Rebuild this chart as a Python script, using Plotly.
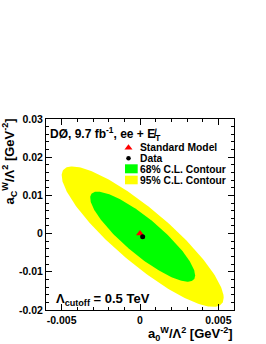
import numpy as np
import plotly.graph_objects as go

# Standard Model expectation and measured point (a0W/L^2, aCW/L^2) in GeV^-2
sm_point = [0.0, 0.0]
data_point = [0.00017, -0.00080]

# Contour ellipse parameters: half-width in a0, half-height in aC, correlation
contour_names = ["68% C.L. Contour", "95% C.L. Contour"]
contour_colors = ["#00ff00", "#ffff00"]
contour_ax = [0.00335, 0.00517]
contour_ay = [0.01179, 0.01838]
contour_rho = [-0.86, -0.87]

x_ticks = [-0.005, 0, 0.005]
x_ticklabels = ["-0.005", "0", "0.005"]
y_ticks = [-0.02, -0.01, 0, 0.01, 0.02, 0.03]
y_ticklabels = ["-0.02", "-0.01", "0", "0.01", "0.02", "0.03"]

legend_labels = ["Standard Model", "Data", "68% C.L. Contour", "95% C.L. Contour"]

FONT = "Liberation Sans, Arial, Helvetica, sans-serif"

# plot-area geometry in pixels
W, H = 266, 344
L, R, T, B = 46, 234, 119, 310
PW, PH = R - L, B - T


def px(xp):
    return (xp - L) / PW


def py(yp):
    return (B - yp) / PH


def ellipse(cx, cy, ax, ay, rho, n=240):
    t = np.linspace(0, 2 * np.pi, n)
    x = cx + ax * np.cos(t)
    y = cy + ay * np.cos(t + np.arccos(rho))
    return x, y


fig = go.Figure()

for i in [1, 0]:
    ex, ey = ellipse(data_point[0], data_point[1], contour_ax[i], contour_ay[i], contour_rho[i])
    fig.add_trace(go.Scatter(
        x=ex, y=ey, mode="lines", fill="toself",
        fillcolor=contour_colors[i], line=dict(width=0, color=contour_colors[i]),
        name=contour_names[i], hoverinfo="skip"))

fig.add_trace(go.Scatter(
    x=[sm_point[0]], y=[sm_point[1]], mode="markers", name="Standard Model",
    marker=dict(symbol="triangle-up", size=7, color="red", line=dict(width=0))))
fig.add_trace(go.Scatter(
    x=[data_point[0]], y=[data_point[1]], mode="markers", name="Data",
    marker=dict(symbol="circle", size=5, color="black", line=dict(width=0))))

# legend symbols on an overlay axis spanning the plot area in paper units
fig.add_trace(go.Scatter(
    x=[px(128.5)], y=[py(147.8)], xaxis="x2", yaxis="y2", mode="markers",
    marker=dict(symbol="triangle-up", size=7, color="red", line=dict(width=0)), hoverinfo="skip"))
fig.add_trace(go.Scatter(
    x=[px(128.5)], y=[py(158.3)], xaxis="x2", yaxis="y2", mode="markers",
    marker=dict(symbol="circle", size=4.5, color="black", line=dict(width=0)), hoverinfo="skip"))

axis_common = dict(
    showgrid=False, zeroline=False, showline=True, linecolor="black", linewidth=1,
    mirror="ticks", ticks="inside", ticklen=6, tickwidth=1, tickcolor="black",
    tickfont=dict(family=FONT, size=10.5, color="black", weight="bold"),
)

fig.update_layout(
    width=W, height=H,
    margin=dict(l=L, r=W - R, t=T, b=H - B, pad=0),
    paper_bgcolor="white", plot_bgcolor="white",
    font=dict(family=FONT, color="black"),
    showlegend=False,
    xaxis=dict(range=[-0.006, 0.006], tickvals=x_ticks, ticktext=x_ticklabels,
               minor=dict(ticks="inside", ticklen=3, dtick=0.001, tick0=0, tickcolor="black"),
               **axis_common),
    yaxis=dict(range=[-0.02, 0.03], tickvals=y_ticks, ticktext=y_ticklabels,
               minor=dict(ticks="inside", ticklen=3, dtick=0.002, tick0=0, tickcolor="black"),
               **axis_common),
    xaxis2=dict(overlaying="x", range=[0, 1], visible=False, fixedrange=True),
    yaxis2=dict(overlaying="y", range=[0, 1], visible=False, fixedrange=True),
)

legend_y = [147.3, 158.3, 169.3, 180.0]
annotations = []
for lab, yc in zip(legend_labels, legend_y):
    annotations.append(dict(text=lab, xref="paper", yref="paper", x=px(139), y=py(yc),
                            xanchor="left", yanchor="middle", showarrow=False, borderpad=0,
                            font=dict(family=FONT, size=10.3, color="black", weight="bold")))

annotations += [
    dict(text="DØ, 9.7 fb<sup>-1</sup>, ee + E̸<sub>T</sub>", xref="paper", yref="paper",
         x=px(48.5), y=py(133.5), xanchor="left", yanchor="middle", showarrow=False, borderpad=0,
         font=dict(family=FONT, size=12, color="black", weight="bold")),
    dict(text="Λ<sub>cutoff</sub> = 0.5 TeV", xref="paper", yref="paper",
         x=px(55), y=py(299), xanchor="left", yanchor="middle", showarrow=False, borderpad=0,
         font=dict(family=FONT, size=13, color="black", weight="bold")),
    dict(text="a<sub>C</sub><sup>W</sup>/Λ<sup>2</sup> [GeV<sup>-2</sup>]", xref="paper", yref="paper",
         x=px(9.5), y=py(118), xanchor="center", yanchor="top", textangle=-90, showarrow=False,
         borderpad=0, font=dict(family=FONT, size=13, color="black", weight="bold")),
    dict(text="a<sub>0</sub><sup>W</sup>/Λ<sup>2</sup> [GeV<sup>-2</sup>]", xref="paper", yref="paper",
         x=px(234), y=py(334), xanchor="right", yanchor="middle", showarrow=False, borderpad=0,
         font=dict(family=FONT, size=13, color="black", weight="bold")),
]

shapes = [
    dict(type="rect", xref="paper", yref="paper", x0=px(125), x1=px(137.7), y0=py(173.3), y1=py(164.3),
         fillcolor="#00ff00", line=dict(width=0)),
    dict(type="rect", xref="paper", yref="paper", x0=px(125), x1=px(137.7), y0=py(184.3), y1=py(175.7),
         fillcolor="#ffff00", line=dict(width=0)),
]

fig.update_layout(annotations=annotations, shapes=shapes)

fig.write_html("out.html", config={"displayModeBar": False},
               post_script="document.body.style.margin='0';")
